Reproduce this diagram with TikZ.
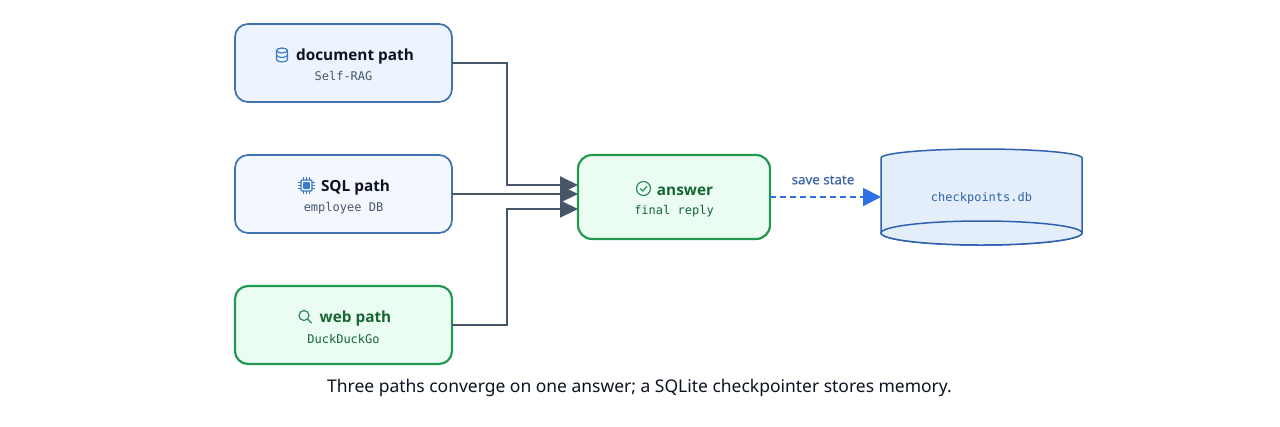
\documentclass[tikz,border=0pt]{standalone}
\usepackage{fontspec}
\setmainfont{Noto Sans}
\setmonofont{DejaVu Sans Mono}
\newfontfamily\headfont{Open Sans}
\newfontfamily\midfont[FakeBold=0.4]{Noto Sans}
\usetikzlibrary{arrows.meta,calc}
\newdimen\px \px=.75pt
\definecolor{bluestroke}{HTML}{3F72AF}
\definecolor{docfill}{HTML}{EEF4FE}
\definecolor{sqlfill}{HTML}{F4F8FE}
\definecolor{greenfill}{HTML}{EBFDF3}
\definecolor{greenstroke}{HTML}{22994F}
\definecolor{greentext}{HTML}{166534}
\definecolor{darktext}{HTML}{0B1220}
\definecolor{subtext}{HTML}{475569}
\definecolor{wire}{HTML}{475569}
\definecolor{saveblue}{HTML}{2F6FE4}
\definecolor{savetext}{HTML}{3B65A8}
\definecolor{dbfill}{HTML}{E4EDFA}
\definecolor{dbstroke}{HTML}{2F62AE}
\definecolor{iconblue}{HTML}{3B7CC9}
\definecolor{icongreen}{HTML}{2E8B57}
\tikzset{
  x=.75pt,y=-.75pt,
  pathbox/.style={draw=bluestroke,line width=1.7\px,rounded corners=13\px,minimum width=217\px,minimum height=78\px,outer sep=0pt,inner sep=0pt},
  greenbox/.style={pathbox,fill=greenfill,draw=greenstroke,line width=2.2\px},
  title/.style={font=\fontsize{11.5}{14}\selectfont\headfont\bfseries,text=darktext,inner sep=0pt,anchor=center},
  subt/.style={font=\fontsize{9}{11}\selectfont\ttfamily,text=subtext,inner sep=0pt,anchor=center},
  wirearrow/.style={draw=wire,line width=2\px,-{Triangle[length=13.5pt,width=12.75pt]}},
  iconline/.style={line width=1.2\px,line cap=round,line join=round},
}
\begin{document}
\begin{tikzpicture}
\useasboundingbox[fill=white] (0,0) rectangle (1280,426);
% boxes
\node[pathbox,fill=docfill] (doc) at (343.5,63) {};
\node[pathbox,fill=sqlfill] (sql) at (343.5,194) {};
\node[greenbox] (web) at (343.5,325) {};
\node[greenbox,minimum width=192\px,minimum height=84\px,rounded corners=14\px] (ans) at (674,197) {};
% texts
\node[title] (t1) at (355,57) {document path};
\node[subt] (s1) at (343.5,76) {Self-RAG};
\node[title] (t2) at (355.5,188) {SQL path};
\node[subt] (s2) at (343.5,208) {employee DB};
\node[title,text=greentext] (t3) at (355.5,319) {web path};
\node[subt,text=greentext] (s3) at (343.5,339) {DuckDuckGo};
\node[title,text=greentext] (t4) at (685,191) {answer};
\node[subt,text=greentext] (s4) at (674,211.5) {final reply};
% icons
\begin{scope}[iconline,draw=iconblue]
  \draw (276.5,50.5) arc[start angle=180,end angle=540,x radius=5.5,y radius=2.5];
  \draw (276.5,50.5) -- (276.5,59.5) arc[start angle=180,end angle=0,x radius=5.5,y radius=2.5] -- (287.5,50.5);
  \draw (276.5,55) arc[start angle=180,end angle=0,x radius=5.5,y radius=2.5];
\end{scope}
\begin{scope}[iconline,draw=iconblue]
  \draw[rounded corners=1\px] (301,180) rectangle (312,191);
  \draw[fill=iconblue] (304,183) rectangle (309,188);
  \foreach \d in {303.5,306.5,309.5} {
    \draw (\d,177.5) -- (\d,180);
    \draw (\d,191) -- (\d,193.5);
  }
  \foreach \d in {182.5,185.5,188.5} {
    \draw (298.5,\d) -- (301,\d);
    \draw (312,\d) -- (314.5,\d);
  }
\end{scope}
\begin{scope}[iconline,draw=icongreen]
  \draw (304,315.5) circle[radius=5];
  \draw (307.7,319.2) -- (311.5,323);
\end{scope}
\begin{scope}[iconline,draw=icongreen]
  \draw (643.5,188.5) circle[radius=7];
  \draw (640.5,188.8) -- (642.8,191) -- (646.8,186.6);
\end{scope}
% cylinder
\node[inner sep=0pt,minimum width=201\px,minimum height=72\px,outer sep=0pt] (db) at (981.5,197) {};
\draw[dbstroke,fill=dbfill,line width=1.5\px]
  (881,158) arc[start angle=180,end angle=360,x radius=100.5,y radius=9]
  -- (1082,233) arc[start angle=0,end angle=180,x radius=100.5,y radius=12] -- cycle;
\draw[dbstroke,fill=dbfill,line width=1.5\px] (981.5,233) ellipse[x radius=100.5,y radius=12];
\node[font=\fontsize{9}{11}\selectfont\ttfamily,text=dbstroke,inner sep=0pt] (dbl) at ($(db.center)+(0,1)$) {checkpoints.db};
% connectors
\coordinate (bus) at (507,0);
\draw[wirearrow] (doc.east) -- (doc.east -| bus) -- ($(bus |- ans.west)+(0,-12)$) -- ($(ans.west)+(0,-12)$);
\draw[wirearrow] (sql.east) -- (sql.east -| ans.west);
\draw[wirearrow] (web.east) -- (web.east -| bus) -- ($(bus |- ans.west)+(0,12)$) -- ($(ans.west)+(0,12)$);
\draw[draw=saveblue,line width=2\px,dash pattern=on 6\px off 4\px,-{Triangle[length=13.5pt,width=13.5pt]}] (ans.east) -- (ans.east -| db.west);
\node[font=\fontsize{10}{11}\selectfont\midfont,text=savetext,inner sep=0pt] (sv) at (823,180) {save state};
% caption
\node[font=\fontsize{13.1}{16}\selectfont,text=darktext,inner sep=0pt] (cap) at (639.5,388) {Three paths converge on one answer; a SQLite checkpointer stores memory.};
\end{tikzpicture}
\end{document}
